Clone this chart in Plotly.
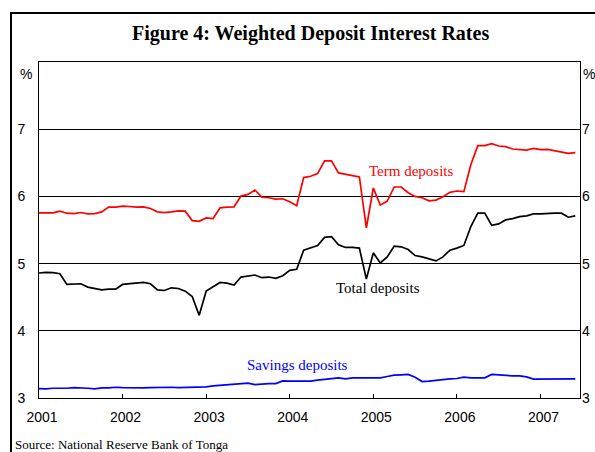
import plotly.graph_objects as go

# ---- data (monthly, Jan 2001 - Jun 2007) ----
years = list(range(2001, 2008))
months_count = 78
term_deposits = [5.756, 5.75, 5.755, 5.78, 5.75, 5.745, 5.76, 5.74, 5.745, 5.77, 5.84, 5.84,
                 5.855, 5.85, 5.84, 5.845, 5.82, 5.77, 5.76, 5.77, 5.785, 5.78, 5.64, 5.63,
                 5.68, 5.67, 5.83, 5.84, 5.845, 6.005, 6.03, 6.095, 5.99, 5.98, 5.96, 5.965,
                 5.92, 5.86, 6.28, 6.30, 6.34, 6.53, 6.53, 6.35, 6.335, 6.31, 6.29, 5.53,
                 6.125, 5.87, 5.93, 6.14, 6.14, 6.055, 6.0, 5.98, 5.935, 5.945, 5.995, 6.06,
                 6.08, 6.07, 6.47, 6.755, 6.755, 6.785, 6.75, 6.74, 6.705, 6.70, 6.69, 6.715,
                 6.695, 6.70, 6.68, 6.66, 6.64, 6.65]
total_deposits = [4.86, 4.87, 4.865, 4.85, 4.69, 4.70, 4.70, 4.65, 4.63, 4.61, 4.62, 4.62,
                  4.69, 4.70, 4.70, 4.72, 4.70, 4.61, 4.60, 4.64, 4.63, 4.59, 4.51, 4.23,
                  4.59, 4.65, 4.72, 4.71, 4.68, 4.80, 4.81, 4.83, 4.79, 4.80, 4.78, 4.82,
                  4.90, 4.915, 5.20, 5.24, 5.27, 5.39, 5.40, 5.28, 5.24, 5.24, 5.23, 4.77,
                  5.16, 5.01, 5.10, 5.26, 5.25, 5.21, 5.12, 5.10, 5.075, 5.04, 5.10, 5.20,
                  5.23, 5.27, 5.55, 5.75, 5.75, 5.57, 5.59, 5.65, 5.67, 5.70, 5.71, 5.74,
                  5.74, 5.75, 5.75, 5.75, 5.69, 5.71]
savings_deposits = [3.14, 3.135, 3.145, 3.14, 3.145, 3.155, 3.155, 3.145, 3.135, 3.15, 3.15, 3.16,
                    3.155, 3.15, 3.15, 3.15, 3.155, 3.16, 3.16, 3.16, 3.155, 3.155, 3.16, 3.165,
                    3.165, 3.18, 3.19, 3.195, 3.20, 3.21, 3.22, 3.20, 3.21, 3.215, 3.215, 3.255,
                    3.25, 3.25, 3.25, 3.25, 3.265, 3.28, 3.285, 3.30, 3.285, 3.30, 3.30, 3.30,
                    3.30, 3.30, 3.32, 3.34, 3.345, 3.35, 3.31, 3.245, 3.25, 3.265, 3.28, 3.285,
                    3.29, 3.31, 3.30, 3.30, 3.30, 3.35, 3.34, 3.33, 3.33, 3.33, 3.315, 3.28,
                    3.28, 3.28, 3.28, 3.285, 3.285, 3.285]
y_ticks = [3, 4, 5, 6, 7]

x = [2001 + i / 12 for i in range(months_count)]

W, H = 595, 452
L, R, T, B = 39, 15, 62, 54
PW, PH = W - L - R, H - T - B


def px(p):
    """window x pixel -> paper coordinate"""
    return (p - L) / PW


def py(p):
    """window y pixel -> paper coordinate"""
    return (H - B - p) / PH


fig = go.Figure()
fig.add_trace(go.Scatter(x=x, y=term_deposits, mode="lines", name="Term deposits",
                         line=dict(color="#ff0000", width=1.7)))
fig.add_trace(go.Scatter(x=x, y=total_deposits, mode="lines", name="Total deposits",
                         line=dict(color="#000000", width=1.7)))
fig.add_trace(go.Scatter(x=x, y=savings_deposits, mode="lines", name="Savings deposits",
                         line=dict(color="#0000ff", width=1.7)))
# invisible trace for right axis
fig.add_trace(go.Scatter(x=[x[0]], y=[3], yaxis="y2", mode="markers",
                         marker=dict(opacity=0), showlegend=False, hoverinfo="skip"))

tick_font = dict(family="Liberation Sans, Arial, sans-serif", size=14, color="#000")
serif = "Liberation Serif, Times New Roman, serif"

fig.update_layout(
    width=W, height=H, autosize=False,
    margin=dict(l=L, r=R, t=T, b=B),
    paper_bgcolor="white", plot_bgcolor="white",
    showlegend=False,
    xaxis=dict(range=[2001, 2007.473], tickvals=years, ticktext=[str(v) for v in years],
               ticks="inside", ticklen=4, tickcolor="#000", tickwidth=1,
               showline=True, linecolor="#000", linewidth=1, mirror=True,
               showgrid=False, zeroline=False, tickfont=tick_font, automargin=False,
               ticklabelshift=3, ticklabelstandoff=6),
    yaxis=dict(range=[3, 8], tickvals=y_ticks, ticks="", showline=True, linecolor="#000",
               linewidth=1, mirror=True, showgrid=True, gridcolor="#000", gridwidth=1,
               zeroline=False, tickfont=tick_font, ticklabelstandoff=10, automargin=False),
    yaxis2=dict(range=[3, 8], tickvals=y_ticks, overlaying="y", side="right", ticks="",
                showgrid=False, zeroline=False, showline=False, tickfont=tick_font,
                ticklabelstandoff=1, automargin=False),
)

ann = []
ann.append(dict(text="<b>Figure 4: Weighted Deposit Interest Rates</b>", x=px(310), y=py(33),
                xref="paper", yref="paper", showarrow=False, xanchor="center", yanchor="middle",
                font=dict(family=serif, size=20, color="#000")))
ann.append(dict(text="%", x=px(26), y=py(74), xref="paper", yref="paper", showarrow=False,
                xanchor="center", yanchor="middle", font=tick_font))
ann.append(dict(text="%", x=px(581), y=py(74), xref="paper", yref="paper", showarrow=False,
                xanchor="left", yanchor="middle", font=tick_font))
ann.append(dict(text="Term deposits", x=px(411), y=py(171), xref="paper", yref="paper",
                showarrow=False, xanchor="center", yanchor="middle",
                font=dict(family=serif, size=15, color="#ff0000")))
ann.append(dict(text="Total deposits", x=px(378), y=py(288), xref="paper", yref="paper",
                showarrow=False, xanchor="center", yanchor="middle",
                font=dict(family=serif, size=15, color="#000")))
ann.append(dict(text="Savings deposits", x=px(297), y=py(365), xref="paper", yref="paper",
                showarrow=False, xanchor="center", yanchor="middle",
                font=dict(family=serif, size=15, color="#0000ff")))
ann.append(dict(text="Source: National Reserve Bank of Tonga", x=px(13), y=py(444),
                xref="paper", yref="paper", showarrow=False, xanchor="left", yanchor="middle",
                font=dict(family=serif, size=13, color="#000")))
fig.update_layout(annotations=ann)

# outer frame (left and top edges; the rest is cropped off)
fig.add_shape(type="line", xref="paper", yref="paper", x0=px(11), x1=px(11),
              y0=py(12), y1=py(470), line=dict(color="#000", width=2))
fig.add_shape(type="line", xref="paper", yref="paper", x0=px(10), x1=px(640),
              y0=py(13), y1=py(13), line=dict(color="#000", width=2))

# remove the default page margin so the 595x452 figure fills the window exactly
page_js = "document.body.style.margin='0';document.body.style.overflow='hidden';"
fig.write_html("out.html", post_script=page_js,
               config={"responsive": False, "displayModeBar": False})
